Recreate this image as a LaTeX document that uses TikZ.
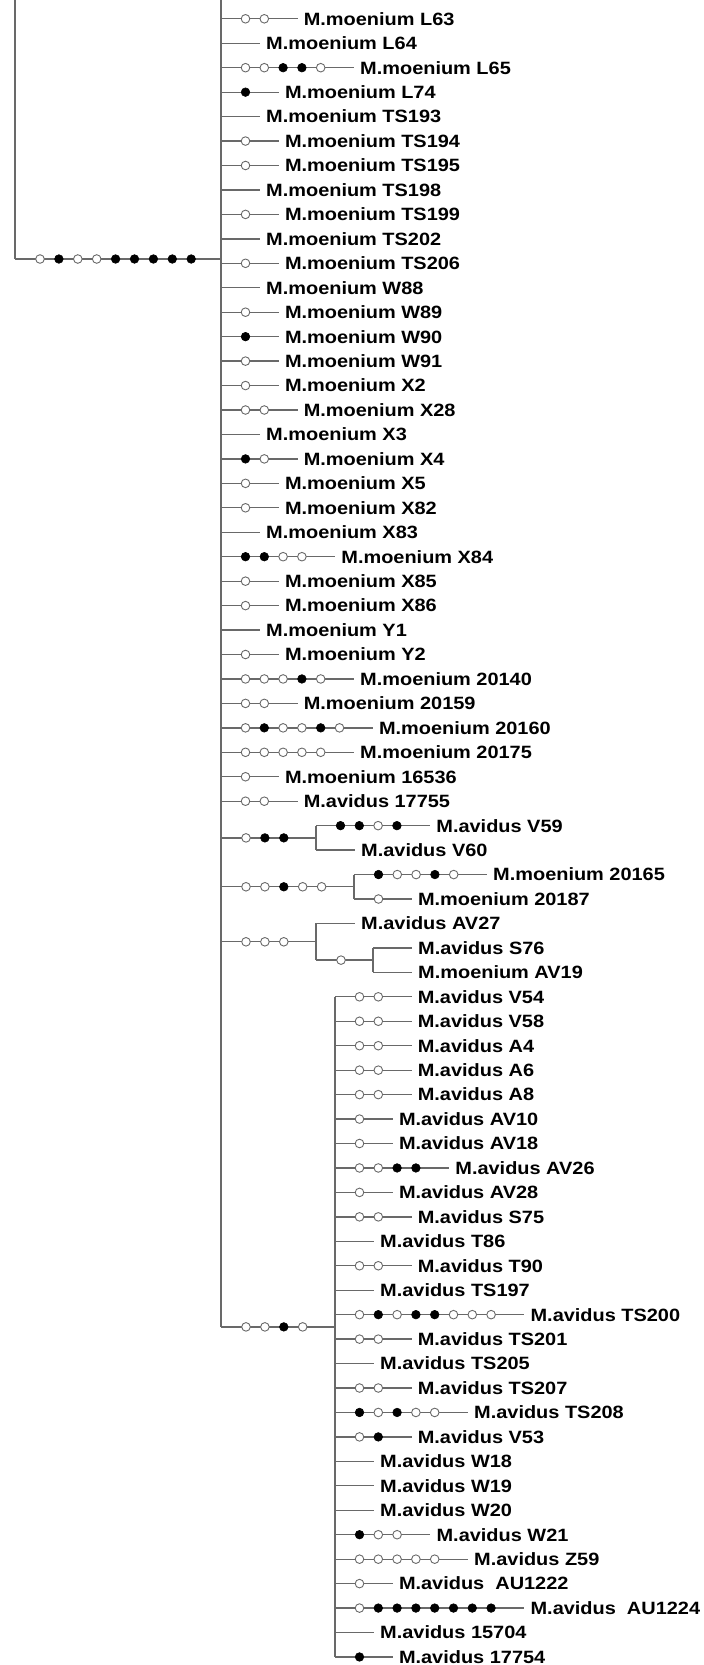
\documentclass[tikz,border=0pt]{standalone}
\usepackage{fontspec}
\newfontfamily\labfont[FakeStretch=1.12]{Liberation Sans}
\definecolor{linegray}{RGB}{105,105,105}
\newcounter{mc}
\newcommand\leaf[5]{%
  \pgfmathsetmacro\ly{18.8+24.45*#3}%
  \setcounter{mc}{0}%
  \if\relax\detokenize{#4}\relax\else
    \foreach \m in {#4}{\stepcounter{mc}}%
  \fi
  \coordinate (#1-b) at (#2,\ly);
  \node[lab] (#1) at ({#2+39+18.8*\themc},\ly) {#5};
  \draw[br] (#1-b) -- (#1.west);
  \if\relax\detokenize{#4}\relax\else
    \foreach \m [count=\k] in {#4}{\node[mut\m] (#1-m\k) at ({#2+24.5+18.8*(\k-1)},\ly) {};}%
  \fi
}
\newcommand\ibranch[5]{%
  \pgfmathsetmacro\by{#3}%
  \coordinate (#1-a) at (#2,\by);
  \coordinate (#1-c) at (#4,\by);
  \draw[br] (#1-a) -- (#1-c);
  \foreach \m [count=\k] in {#5}{\node[mut\m] (#1-m\k) at ({#2+25+18.9*(\k-1)},\by) {};}%
}
\begin{document}
\begin{tikzpicture}[x=1pt,y=-1pt,
  br/.style={draw=linegray,line width=1.3pt},
  lab/.style={anchor=west,inner xsep=6pt,inner ysep=0pt,text=black,
    font=\labfont\bfseries\fontsize{17.8}{17.8}\selectfont},
  muto/.style={circle,draw=linegray,fill=white,line width=0.9pt,inner sep=0pt,minimum size=8.6pt},
  mutf/.style={circle,draw=black,fill=black,line width=0.6pt,inner sep=0pt,minimum size=8.6pt}]
\useasboundingbox (0,0) rectangle (704,1665);
% left part and root branch
\coordinate (ltop) at (15,0);
\coordinate (rootL) at (15,259);
\coordinate (top) at (221,0);
\draw[br] (ltop) -- (rootL);
\ibranch{root}{15}{259}{221}{o,f,o,o,f,f,f,f,f}
% main clade vertical
\ibranch{cD}{221}{18.8+24.45*53.5}{335}{o,o,f,o}
\draw[br] (top) -- (cD-a);
% main clade leaves
\leaf{L63}{221}{0}{o,o}{M.moenium L63}
\leaf{L64}{221}{1}{}{M.moenium L64}
\leaf{L65}{221}{2}{o,o,f,f,o}{M.moenium L65}
\leaf{L74}{221}{3}{f}{M.moenium L74}
\leaf{TS193}{221}{4}{}{M.moenium TS193}
\leaf{TS194}{221}{5}{o}{M.moenium TS194}
\leaf{TS195}{221}{6}{o}{M.moenium TS195}
\leaf{TS198}{221}{7}{}{M.moenium TS198}
\leaf{TS199}{221}{8}{o}{M.moenium TS199}
\leaf{TS202}{221}{9}{}{M.moenium TS202}
\leaf{TS206}{221}{10}{o}{M.moenium TS206}
\leaf{W88}{221}{11}{}{M.moenium W88}
\leaf{W89}{221}{12}{o}{M.moenium W89}
\leaf{W90}{221}{13}{f}{M.moenium W90}
\leaf{W91}{221}{14}{o}{M.moenium W91}
\leaf{X2}{221}{15}{o}{M.moenium X2}
\leaf{X28}{221}{16}{o,o}{M.moenium X28}
\leaf{X3}{221}{17}{}{M.moenium X3}
\leaf{X4}{221}{18}{f,o}{M.moenium X4}
\leaf{X5}{221}{19}{o}{M.moenium X5}
\leaf{X82}{221}{20}{o}{M.moenium X82}
\leaf{X83}{221}{21}{}{M.moenium X83}
\leaf{X84}{221}{22}{f,f,o,o}{M.moenium X84}
\leaf{X85}{221}{23}{o}{M.moenium X85}
\leaf{X86}{221}{24}{o}{M.moenium X86}
\leaf{Y1}{221}{25}{}{M.moenium Y1}
\leaf{Y2}{221}{26}{o}{M.moenium Y2}
\leaf{n20140}{221}{27}{o,o,o,f,o}{M.moenium 20140}
\leaf{n20159}{221}{28}{o,o}{M.moenium 20159}
\leaf{n20160}{221}{29}{o,f,o,o,f,o}{M.moenium 20160}
\leaf{n20175}{221}{30}{o,o,o,o,o}{M.moenium 20175}
\leaf{n16536}{221}{31}{o}{M.moenium 16536}
\leaf{n17755}{221}{32}{o,o}{M.avidus 17755}
% clade A
\ibranch{cA}{221}{18.8+24.45*33.5}{316}{o,f,f}
\leaf{V59}{316}{33}{f,f,o,f}{M.avidus V59}
\leaf{V60}{316}{34}{}{M.avidus V60}
\draw[br] (V59-b) -- (V60-b);
% clade B
\ibranch{cB}{221}{18.8+24.45*35.5}{354}{o,o,f,o,o}
\leaf{n20165}{354}{35}{f,o,o,f,o}{M.moenium 20165}
\leaf{n20187}{354}{36}{o}{M.moenium 20187}
\draw[br] (n20165-b) -- (n20187-b);
% clade C
\ibranch{cC}{221}{18.8+24.45*37.75}{316}{o,o,o}
\leaf{AV27}{316}{37}{}{M.avidus AV27}
\ibranch{cCs}{316}{18.8+24.45*38.5}{373}{o}
\draw[br] (AV27-b) -- (cCs-a);
\leaf{S76}{373}{38}{}{M.avidus S76}
\leaf{AV19}{373}{39}{}{M.moenium AV19}
\draw[br] (S76-b) -- (AV19-b);
% clade D
\leaf{V54}{335}{40}{o,o}{M.avidus V54}
\leaf{V58}{335}{41}{o,o}{M.avidus V58}
\leaf{A4}{335}{42}{o,o}{M.avidus A4}
\leaf{A6}{335}{43}{o,o}{M.avidus A6}
\leaf{A8}{335}{44}{o,o}{M.avidus A8}
\leaf{AV10}{335}{45}{o}{M.avidus AV10}
\leaf{AV18}{335}{46}{o}{M.avidus AV18}
\leaf{AV26}{335}{47}{o,o,f,f}{M.avidus AV26}
\leaf{AV28}{335}{48}{o}{M.avidus AV28}
\leaf{S75}{335}{49}{o,o}{M.avidus S75}
\leaf{T86}{335}{50}{}{M.avidus T86}
\leaf{T90}{335}{51}{o,o}{M.avidus T90}
\leaf{TS197}{335}{52}{}{M.avidus TS197}
\leaf{TS200}{335}{53}{o,f,o,f,f,o,o,o}{M.avidus TS200}
\leaf{TS201}{335}{54}{o,o}{M.avidus TS201}
\leaf{TS205}{335}{55}{}{M.avidus TS205}
\leaf{TS207}{335}{56}{o,o}{M.avidus TS207}
\leaf{TS208}{335}{57}{f,o,f,o,o}{M.avidus TS208}
\leaf{V53}{335}{58}{o,f}{M.avidus V53}
\leaf{W18}{335}{59}{}{M.avidus W18}
\leaf{W19}{335}{60}{}{M.avidus W19}
\leaf{W20}{335}{61}{}{M.avidus W20}
\leaf{W21}{335}{62}{f,o,o}{M.avidus W21}
\leaf{Z59}{335}{63}{o,o,o,o,o}{M.avidus Z59}
\leaf{AU1222}{335}{64}{o}{M.avidus\ \ AU1222}
\leaf{AU1224}{335}{65}{o,f,f,f,f,f,f,f}{M.avidus\ \ AU1224}
\leaf{n15704}{335}{66}{}{M.avidus 15704}
\leaf{n17754}{335}{67}{f}{M.avidus 17754}
\draw[br] (V54-b) -- (n17754-b);
\end{tikzpicture}
\end{document}
